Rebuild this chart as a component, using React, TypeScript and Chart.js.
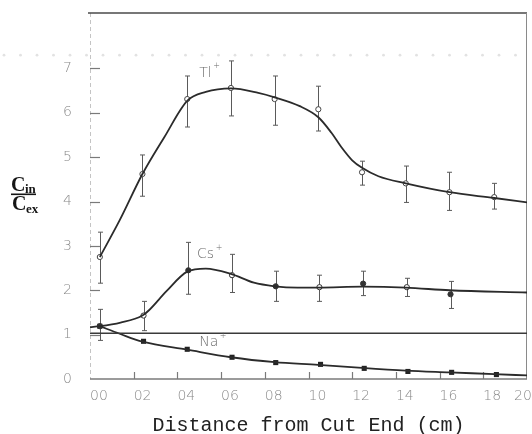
import React, { useEffect, useRef } from "react";
import { Chart, registerables } from "chart.js";

Chart.register(...registerables);

// ---- axes ----
const xTickValues = [0, 0.2, 0.4, 0.6, 0.8, 1.0, 1.2, 1.4, 1.6, 1.8, 2.0];
const xTickLabels = ["00", "02", "04", "06", "08", "10", "12", "14", "16", "18", "20"];
const yTickValues = [0, 1, 2, 3, 4, 5, 6, 7];
const yTickLabels = ["0", "1", "2", "3", "4", "5", "6", "7"];
const xTitle = "Distance from Cut End (cm)";

// ---- Tl+ ----
const tlX = [0.045, 0.24, 0.445, 0.645, 0.845, 1.045, 1.245, 1.445, 1.645, 1.85];
const tlY = [2.75, 4.62, 6.31, 6.56, 6.31, 6.08, 4.66, 4.41, 4.21, 4.1];
const tlHigh = [3.31, 5.05, 6.83, 7.17, 6.83, 6.6, 4.91, 4.8, 4.66, 4.41];
const tlLow = [2.16, 4.12, 5.68, 5.93, 5.72, 5.59, 4.37, 3.98, 3.8, 3.83];
const tlCurveX = [0.045, 0.136, 0.24, 0.34, 0.445, 0.53, 0.645, 0.77, 0.845, 0.96, 1.045, 1.105, 1.15, 1.2, 1.245, 1.32, 1.445, 1.645, 1.85, 2.0];
const tlCurveY = [2.75, 3.58, 4.62, 5.45, 6.27, 6.47, 6.55, 6.45, 6.35, 6.15, 5.9, 5.55, 5.23, 4.93, 4.76, 4.57, 4.41, 4.21, 4.08, 3.98];

// ---- Cs+ ----
const csX = [0.045, 0.245, 0.45, 0.65, 0.85, 1.05, 1.25, 1.45, 1.65];
const csY = [1.19, 1.43, 2.45, 2.34, 2.09, 2.07, 2.15, 2.07, 1.91];
const csHigh = [1.57, 1.75, 3.08, 2.81, 2.43, 2.34, 2.43, 2.27, 2.2];
const csLow = [0.87, 1.09, 1.91, 1.95, 1.75, 1.75, 1.88, 1.86, 1.59];
const csFilled = [true, false, true, false, true, false, true, false, true];
const csCurveX = [0, 0.045, 0.14, 0.24, 0.27, 0.35, 0.445, 0.53, 0.645, 0.75, 0.845, 0.95, 1.045, 1.245, 1.445, 1.645, 2.0];
const csCurveY = [1.17, 1.19, 1.27, 1.43, 1.55, 1.98, 2.42, 2.49, 2.37, 2.17, 2.09, 2.06, 2.06, 2.08, 2.06, 2.0, 1.95];

// ---- Na+ ----
const naX = [0.045, 0.245, 0.445, 0.65, 0.85, 1.055, 1.255, 1.455, 1.655, 1.86];
const naY = [1.19, 0.85, 0.67, 0.49, 0.37, 0.33, 0.24, 0.17, 0.15, 0.1];
const naCurveX = [0.045, 0.136, 0.24, 0.445, 0.645, 0.845, 1.045, 1.245, 1.445, 1.645, 1.85, 2.0];
const naCurveY = [1.19, 1.02, 0.84, 0.66, 0.49, 0.38, 0.32, 0.25, 0.19, 0.15, 0.11, 0.08];

// ---- unity reference line ----
const unityX = [0, 2.0];
const unityY = [1.03, 1.03];

// ---- series labels ----
const seriesLabels = [
  { text: "Tl", sup: "+", x: 0.5, y: 6.9 },
  { text: "Cs", sup: "+", x: 0.49, y: 2.8 },
  { text: "Na", sup: "+", x: 0.5, y: 0.82 },
];

// faint scanner dot row level
const scanDotsLevel = 7.3;

const pts = (xs: number[], ys: number[]) => xs.map((x, i) => ({ x, y: ys[i] }));

const INK = "#2b2b2b";
const TICK_FONT = '200 14px "DejaVu Sans"';
const TICK_COLOR = "#8a8a8a";

const decor = {
  id: "decor",
  beforeDatasetsDraw(chart: any) {
    const { ctx, chartArea: a, scales } = chart;
    const xs = scales.x;
    const ys = scales.y;
    ctx.save();
    // scanner dots row
    const yd = ys.getPixelForValue(scanDotsLevel);
    ctx.fillStyle = "#e2e2e2";
    for (let px = 4; px < chart.width; px += 16.5) {
      ctx.beginPath();
      ctx.arc(px, yd, 1.4, 0, Math.PI * 2);
      ctx.fill();
    }
    // left axis (faint dashed)
    ctx.strokeStyle = "#c4c4c4";
    ctx.lineWidth = 1;
    ctx.setLineDash([4, 3]);
    ctx.beginPath();
    ctx.moveTo(a.left + 0.5, a.top);
    ctx.lineTo(a.left + 0.5, a.bottom);
    ctx.stroke();
    ctx.setLineDash([]);
    // top border
    ctx.strokeStyle = "#4a4a4a";
    ctx.lineWidth = 1.5;
    ctx.beginPath();
    ctx.moveTo(a.left - 2, a.top);
    ctx.lineTo(a.right, a.top);
    ctx.stroke();
    // right border
    ctx.strokeStyle = "#8a8a8a";
    ctx.lineWidth = 1;
    ctx.beginPath();
    ctx.moveTo(a.right - 0.5, a.top);
    ctx.lineTo(a.right - 0.5, a.bottom);
    ctx.stroke();
    // bottom axis
    ctx.strokeStyle = "#7a7a7a";
    ctx.lineWidth = 1.3;
    ctx.beginPath();
    ctx.moveTo(a.left, a.bottom);
    ctx.lineTo(a.right, a.bottom);
    ctx.stroke();
    // y tick marks (inside)
    ctx.strokeStyle = "#7a7a7a";
    ctx.lineWidth = 1.2;
    yTickValues.forEach((v) => {
      if (v === 0) return;
      const py = Math.round(ys.getPixelForValue(v)) + 0.5;
      ctx.beginPath();
      ctx.moveTo(a.left, py);
      ctx.lineTo(a.left + 10, py);
      ctx.stroke();
    });
    // x tick marks (inside)
    xTickValues.forEach((v) => {
      if (v === 0 || v === 2) return;
      const px = Math.round(xs.getPixelForValue(v)) + 0.5;
      ctx.beginPath();
      ctx.moveTo(px, a.bottom);
      ctx.lineTo(px, a.bottom - 7);
      ctx.stroke();
    });
    // error bars
    const bars = (xv: number[], lo: number[], hi: number[]) => {
      ctx.strokeStyle = "#5a5a5a";
      ctx.lineWidth = 1;
      xv.forEach((x, i) => {
        const px = Math.round(xs.getPixelForValue(x)) + 0.5;
        const t = ys.getPixelForValue(hi[i]);
        const b = ys.getPixelForValue(lo[i]);
        ctx.beginPath();
        ctx.moveTo(px, t);
        ctx.lineTo(px, b);
        ctx.moveTo(px - 2.5, t);
        ctx.lineTo(px + 2.5, t);
        ctx.moveTo(px - 2.5, b);
        ctx.lineTo(px + 2.5, b);
        ctx.stroke();
      });
    };
    bars(tlX, tlLow, tlHigh);
    bars(csX, csLow, csHigh);
    ctx.restore();
  },
  afterDraw(chart: any) {
    const { ctx, scales, chartArea: a } = chart;
    const xs = scales.x;
    const ys = scales.y;
    ctx.save();
    // last x tick label, pushed inside the right edge
    const lastIdx = xTickValues.length - 1;
    ctx.fillStyle = TICK_COLOR;
    ctx.font = TICK_FONT;
    ctx.textAlign = "left";
    ctx.textBaseline = "middle";
    ctx.fillText(xTickLabels[lastIdx], xs.getPixelForValue(xTickValues[lastIdx]) - 13, a.bottom + 17);
    // series labels
    seriesLabels.forEach((l) => {
      const px = xs.getPixelForValue(l.x);
      const py = ys.getPixelForValue(l.y);
      ctx.fillStyle = "#6a6a6a";
      ctx.font = '200 14px "DejaVu Sans"';
      ctx.textBaseline = "middle";
      ctx.textAlign = "left";
      ctx.fillText(l.text, px, py);
      const w = ctx.measureText(l.text).width;
      ctx.font = '200 8px "DejaVu Sans"';
      ctx.fillText(l.sup, px + w + 1.5, py - 7);
    });
    // y-axis title as fraction C_in / C_ex
    ctx.fillStyle = "#151515";
    ctx.textAlign = "left";
    ctx.textBaseline = "alphabetic";
    ctx.font = 'bold 20px "Liberation Serif"';
    ctx.fillText("C", 11, 191);
    ctx.font = 'bold 13px "Liberation Serif"';
    ctx.fillText("in", 25, 193);
    ctx.fillRect(11, 193.5, 25, 1.6);
    ctx.font = 'bold 20px "Liberation Serif"';
    ctx.fillText("C", 12, 210);
    ctx.font = 'bold 13px "Liberation Serif"';
    ctx.fillText("ex", 26, 213);
    ctx.restore();
  },
};

export default function App() {
  const ref = useRef<HTMLCanvasElement | null>(null);
  useEffect(() => {
    document.body.style.margin = "0";
    const canvas = ref.current;
    if (!canvas) return;
    const line = (data: any, width = 1.8) => ({
      type: "line",
      data,
      showLine: true,
      borderColor: INK,
      borderWidth: width,
      pointRadius: 0,
      cubicInterpolationMode: "monotone",
      fill: false,
    });
    const chart = new Chart(canvas, {
      type: "scatter",
      data: {
        datasets: [
          { ...line(pts(unityX, unityY), 1.6), cubicInterpolationMode: "default", tension: 0, borderColor: "#3a3a3a" },
          line(pts(tlCurveX, tlCurveY)),
          line(pts(csCurveX, csCurveY)),
          line(pts(naCurveX, naCurveY)),
          {
            data: pts(tlX, tlY),
            pointStyle: "circle",
            pointRadius: 2.6,
            pointBorderWidth: 1,
            pointBorderColor: "#444",
            pointBackgroundColor: "#ffffff",
          },
          {
            data: pts(csX, csY),
            pointStyle: "circle",
            pointRadius: 2.6,
            pointBorderWidth: 1,
            pointBorderColor: "#333",
            pointBackgroundColor: csFilled.map((f) => (f ? "#333" : "#ffffff")),
          },
          {
            data: pts(naX, naY),
            pointStyle: "rect",
            pointRadius: 3.6,
            pointBorderWidth: 0,
            pointBorderColor: "#222",
            pointBackgroundColor: "#222",
          },
        ],
      } as any,
      options: {
        animation: false,
        responsive: false,
        maintainAspectRatio: false,
        layout: { padding: { top: 13, right: 2, left: 0, bottom: 0 } },
        plugins: { legend: { display: false }, tooltip: { enabled: false } },
        scales: {
          x: {
            type: "linear",
            min: 0,
            max: 2.0,
            grid: { display: false, drawTicks: false },
            border: { display: false },
            afterBuildTicks: (axis: any) => {
              axis.ticks = xTickValues.map((v) => ({ value: v }));
            },
            afterFit: (axis: any) => {
              axis.height = 55;
              axis.paddingLeft = 0;
              axis.paddingRight = 0;
            },
            ticks: {
              autoSkip: false,
              maxRotation: 0,
              minRotation: 0,
              padding: 9,
              align: "start",
              color: TICK_COLOR,
              font: { family: "DejaVu Sans", size: 14, weight: "200" as any },
              callback: (_v: any, i: number) => (i === xTickLabels.length - 1 ? "" : xTickLabels[i]),
            },
            title: {
              display: true,
              text: xTitle,
              color: "#222",
              font: { family: "Liberation Mono", size: 20, lineHeight: 0.8 },
              padding: { top: 0, bottom: 0 },
            },
          },
          y: {
            type: "linear",
            min: 0,
            max: 8.25,
            grid: { display: false, drawTicks: false },
            border: { display: false },
            afterBuildTicks: (axis: any) => {
              axis.ticks = yTickValues.map((v) => ({ value: v }));
            },
            afterFit: (axis: any) => {
              axis.width = 90;
              axis.paddingTop = 0;
              axis.paddingBottom = 0;
            },
            ticks: {
              autoSkip: false,
              padding: 18,
              color: TICK_COLOR,
              font: { family: "DejaVu Sans", size: 14, weight: "200" as any },
              callback: (_v: any, i: number) => yTickLabels[i],
            },
          },
        },
      } as any,
      plugins: [decor],
    });
    return () => chart.destroy();
  }, []);
  return (
    <div style={{ width: 532, height: 434, background: "#fff" }}>
      <canvas ref={ref} width={532} height={434} style={{ display: "block", width: 532, height: 434 }} />
    </div>
  );
}
